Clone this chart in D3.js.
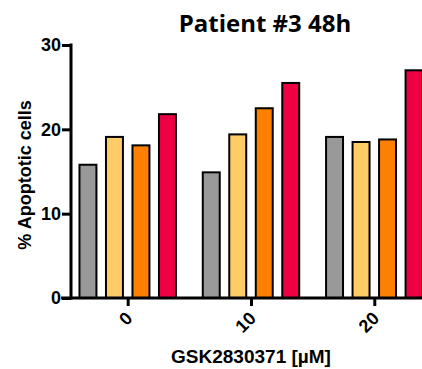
<!DOCTYPE html>
<html>
<head>
<meta charset="utf-8">
<script src="https://cdnjs.cloudflare.com/ajax/libs/d3/7.8.5/d3.min.js"></script>
<style>
  body { margin: 0; background: #fff; }
  svg { display: block; }
</style>
</head>
<body>
<div id="chart"></div>
<script>
const doses = ['0', '10', '20'];
const seriesNames = ['s1', 's2', 's3', 's4'];
const seriesColors = ['#999999', '#FFCC66', '#FF8000', '#EE0044'];
const s1 = [15.8, 14.9, 19.1];
const s2 = [19.1, 19.4, 18.5];
const s3 = [18.1, 22.5, 18.8];
const s4 = [21.8, 25.5, 27.0];
const yTicks = [0, 10, 20, 30];

const series = [s1, s2, s3, s4];
const width = 422, height = 369;
const margin = { left: 71, top: 45, bottom: 71 };
const font = 'Liberation Sans, Arial, sans-serif';

const svg = d3.select('#chart').append('svg')
  .attr('width', width)
  .attr('height', height);

const y = d3.scaleLinear()
  .domain([0, 30])
  .range([height - margin.bottom, margin.top]);

// group centres sit on the dose ticks, bars laid out inside each group
const x = d3.scalePoint()
  .domain(doses)
  .range([127.7, 374.3]);

const xi = d3.scaleBand()
  .domain(seriesNames)
  .range([-53, 53])
  .paddingInner(0.36)
  .paddingOuter(0.18);

const g = svg.append('g');

doses.forEach((d, i) => {
  g.selectAll(null)
    .data(series.map((s, k) => ({ k, v: s[i] })))
    .join('rect')
    .attr('x', e => x(d) + xi(seriesNames[e.k]))
    .attr('y', e => y(e.v))
    .attr('width', xi.bandwidth())
    .attr('height', e => y(0) - y(e.v))
    .attr('fill', e => seriesColors[e.k])
    .attr('stroke', '#000')
    .attr('stroke-width', 2);
});

// y axis
const yAxis = svg.append('g')
  .attr('transform', `translate(${margin.left},0)`)
  .call(d3.axisLeft(y).tickValues(yTicks).tickSize(9).tickSizeOuter(0));
yAxis.select('.domain')
  .attr('d', `M0,${y(0) + 1.5}V${y(30) - 1.5}`)
  .attr('stroke-width', 3);
yAxis.selectAll('.tick line').attr('stroke-width', 3);
yAxis.selectAll('.tick text')
  .attr('x', -10)
  .attr('font-family', font)
  .attr('font-weight', 'bold')
  .attr('font-size', 18)
  .attr('fill', '#000');

// x axis
const xAxis = svg.append('g')
  .attr('transform', `translate(0,${y(0)})`)
  .call(d3.axisBottom(x).tickSize(8).tickSizeOuter(0));
xAxis.select('.domain')
  .attr('d', `M${margin.left - 10},0H${width}`)
  .attr('stroke-width', 3);
xAxis.selectAll('.tick line').attr('stroke-width', 3);
xAxis.selectAll('.tick text')
  .attr('font-family', font)
  .attr('font-weight', 'bold')
  .attr('font-size', 18)
  .attr('fill', '#000')
  .attr('text-anchor', 'end')
  .attr('y', 0)
  .attr('dy', '0.35em')
  .attr('transform', 'translate(1,17) rotate(-45)');

svg.append('text')
  .attr('x', 265)
  .attr('y', 32)
  .attr('text-anchor', 'middle')
  .attr('font-family', 'Open Sans, sans-serif')
  .attr('font-weight', 'bold')
  .attr('font-size', 24)
  .text('Patient #3 48h');

svg.append('text')
  .attr('transform', 'translate(31,175) rotate(-90)')
  .attr('text-anchor', 'middle')
  .attr('font-family', font)
  .attr('font-weight', 'bold')
  .attr('font-size', 18)
  .text('% Apoptotic cells');

svg.append('text')
  .attr('x', 251)
  .attr('y', 363)
  .attr('text-anchor', 'middle')
  .attr('font-family', font)
  .attr('font-weight', 'bold')
  .attr('font-size', 19)
  .text('GSK2830371 [µM]');
</script>
</body>
</html>
